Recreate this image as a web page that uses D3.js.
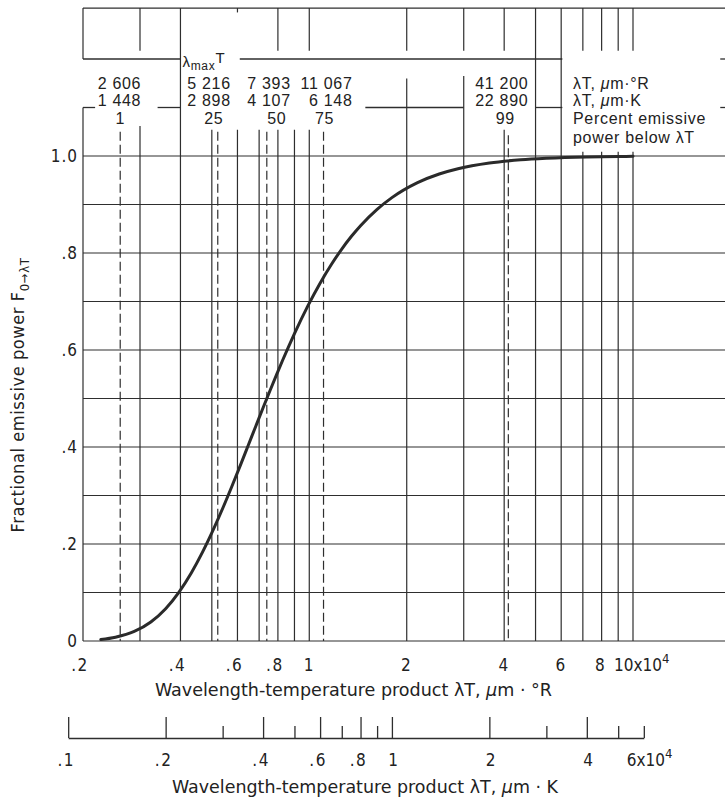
<!DOCTYPE html>
<html><head><meta charset="utf-8">
<script src="https://cdn.jsdelivr.net/npm/d3@7/dist/d3.min.js"></script>
<style>
html,body{margin:0;padding:0;background:#fff;}
svg{display:block;}
</style></head><body>
<svg id="chart" width="725" height="799"></svg>
<script>
// ---------------- data ----------------
// Wavelength-temperature product, um*degR (x 10^4) and fractional emissive power F(0->lambdaT)
const lambdaT_R = [0.227,0.252,0.288,0.324,0.36,0.396,0.432,0.468,0.504,0.54,0.576,0.612,0.648,0.684,0.72,0.756,0.792,0.828,0.864,0.90,0.99,1.08,1.17,1.26,1.35,1.44,1.62,1.80,2.16,2.52,2.88,3.60,4.50,5.40,7.20,9.00,10.0];
const fraction  = [0.003,0.0078,0.0197,0.0393,0.0667,0.1009,0.1402,0.1831,0.2279,0.2732,0.3181,0.3617,0.4036,0.4434,0.4809,0.5160,0.5488,0.5793,0.6075,0.6337,0.6909,0.7378,0.7763,0.8081,0.8344,0.8563,0.8900,0.9142,0.9451,0.9629,0.9738,0.9856,0.9922,0.9953,0.9981,0.9990,0.9993];

// marker (dashed) lines: percent of emissive power below lambdaT
const percentBelow   = [1, 25, 50, 75, 99];
const markerLambdaR  = [0.2606, 0.5216, 0.7393, 1.1067, 4.12];
const markerLabelR   = ["2 606", "5 216", "7 393", "11 067", "41 200"];
const markerLabelK   = ["1 448", "2 898", "4 107", "6 148", "22 890"];

const yGrid       = [0,0.1,0.2,0.3,0.4,0.5,0.6,0.7,0.8,0.9,1.0];
const yTicks      = [0, 0.2, 0.4, 0.6, 0.8, 1.0];
const yTickLabels = ["0", ".2", ".4", ".6", ".8", "1.0"];

const xTicksR      = [0.2, 0.4, 0.6, 0.8, 1, 2, 4, 6, 8];
const xTickLabelsR = [".2", ".4", ".6", ".8", "1", "2", "4", "6", "8"];

const kMajor       = [0.1, 0.2, 0.4, 0.6, 0.8, 1, 2, 4];
const kMajorLabels = [".1", ".2", ".4", ".6", ".8", "1", "2", "4"];
const kMinor       = [0.3, 0.5, 0.7, 0.9, 3, 5, 6];

// ---------------- layout ----------------
const svg = d3.select("#chart");
const INK = "#2e2e2e";
const x  = d3.scaleLog().domain([0.2, 10]).range([83, 633]);
const y  = d3.scaleLinear().domain([0, 1]).range([641, 156]);
// K scale: 1 um*K = 1.8 um*degR
const xK = d3.scaleLog().domain([0.1, 6]).range([x(0.18), x(10.8)]);

const narrow = "'Liberation Sans Narrow','DejaVu Sans Condensed','Arial Narrow',sans-serif";
const sans = "'Liberation Sans',Arial,Helvetica,sans-serif";

const g = svg.append("g");

// horizontal grid lines 0..1.0
g.selectAll("line.hg").data(yGrid).join("line")
  .attr("x1", x(0.2)).attr("x2", 725)
  .attr("y1", d => y(d)).attr("y2", d => y(d))
  .attr("stroke", INK).attr("stroke-width", 1.2);

// header (table) horizontal lines
const headerH = [
  {v: 1.305, segs: [[0.2, 20]]},
  {v: 1.2,   segs: [[0.2, 0.4], [0.61, 6.05], [18.6, 20]]},
  {v: 1.1,   segs: [[0.2, 0.218], [0.34, 0.4], [1.49, 3], [5, 6.05], [18.6, 20]]}
];
headerH.forEach(h => {
  g.selectAll(null).data(h.segs).join("line")
    .attr("x1", d => x(d[0])).attr("x2", d => Math.min(725, x(d[1])))
    .attr("y1", y(h.v)).attr("y2", y(h.v))
    .attr("stroke", INK).attr("stroke-width", 1.3);
});

// vertical grid lines with their vertical extents (in F units)
const TOP = 1.305, TROW = 1.217, PSTART = 1.054;
const gridV = [
  {v: 0.2, segs: [[TOP, 1.2], [1.1, 0]]},
  {v: 0.3, segs: [[TOP, TROW], [1.062, 0]]},
  {v: 0.4, segs: [[TOP, 0]]},
  {v: 0.5, segs: [[PSTART, 0]]},
  {v: 0.6, segs: [[TOP, 1.296], [PSTART, 0]]},
  {v: 0.7, segs: [[PSTART, 0]]},
  {v: 0.8, segs: [[TOP, TROW], [PSTART, 0]]},
  {v: 0.9, segs: [[PSTART, 0]]},
  {v: 1,   segs: [[TOP, TROW], [PSTART, 0]]},
  {v: 2,   segs: [[TOP, TROW], [1.16, 0]]},
  {v: 3,   segs: [[TOP, TROW], [1.165, 0]]},
  {v: 4,   segs: [[TOP, TROW], [PSTART, 0]]},
  {v: 5,   segs: [[TOP, 0]]},
  {v: 6,   segs: [[TOP, 0]]},
  {v: 7,   segs: [[TOP, TROW], [1.009, 0]]},
  {v: 8,   segs: [[TOP, TROW], [1.009, 0]]},
  {v: 9,   segs: [[TOP, TROW], [1.009, 0]]},
  {v: 10,  segs: [[TOP, TROW], [1.009, 0]]}
];
gridV.forEach(l => {
  g.selectAll(null).data(l.segs).join("line")
    .attr("x1", x(l.v)).attr("x2", x(l.v))
    .attr("y1", d => y(d[0])).attr("y2", d => y(d[1]))
    .attr("stroke", INK).attr("stroke-width", 1.2);
});

// dashed marker lines
g.selectAll("line.mk").data(markerLambdaR).join("line")
  .attr("x1", d => x(d)).attr("x2", d => x(d))
  .attr("y1", (d, i) => y(i === 4 ? 1.043 : 1.05)).attr("y2", y(0))
  .attr("stroke", INK).attr("stroke-width", 1.2)
  .attr("stroke-dasharray", "9,4");

// curve
const pts = lambdaT_R.map((v, i) => [v, fraction[i]]);
g.append("path").datum(pts)
  .attr("d", d3.line().x(d => x(d[0])).y(d => y(d[1])).curve(d3.curveMonotoneX))
  .attr("fill", "none").attr("stroke", "#2a2a2a").attr("stroke-width", 3)
  .attr("stroke-linecap", "round");

// ---------------- header texts ----------------
const hdrFont = 16, hdrLS = 0.7;
const numDx = [21, 13, 24, 29, 20];   // right edge offsets of the number columns
const pctDx = [0, -4, 10, 1, -3];
const rowY = [89, 106, 124, 143];
function hdrText(sel) {
  return sel.attr("font-family", sans).attr("font-size", hdrFont)
    .attr("letter-spacing", hdrLS).attr("fill", "#222");
}
hdrText(g.selectAll("text.r").data(markerLabelR).join("text"))
  .attr("x", (d, i) => x(markerLambdaR[i]) + numDx[i]).attr("y", rowY[0])
  .attr("text-anchor", "end").text(d => d);
hdrText(g.selectAll("text.k").data(markerLabelK).join("text"))
  .attr("x", (d, i) => x(markerLambdaR[i]) + numDx[i]).attr("y", rowY[1])
  .attr("text-anchor", "end").text(d => d);
hdrText(g.selectAll("text.p").data(percentBelow).join("text"))
  .attr("x", (d, i) => x(markerLambdaR[i]) + pctDx[i]).attr("y", rowY[2])
  .attr("text-anchor", "middle").text(d => d);

// lambda_max T
const lm = hdrText(g.append("text")).attr("x", x(0.4) + 2).attr("y", 67)
  .attr("font-size", 15);
lm.append("tspan").text("λ");
lm.append("tspan").attr("dy", 3).attr("font-size", 12).text("max");
lm.append("tspan").attr("dy", -7).text("T");

// right-side legend of header rows
const legX = 573;
const l1 = hdrText(g.append("text")).attr("x", legX).attr("y", rowY[0]);
l1.append("tspan").text("λT, ");
l1.append("tspan").attr("font-style", "italic").text("μ");
l1.append("tspan").text("m·°R");
const l2 = hdrText(g.append("text")).attr("x", legX).attr("y", rowY[1]);
l2.append("tspan").text("λT, ");
l2.append("tspan").attr("font-style", "italic").text("μ");
l2.append("tspan").text("m·K");
hdrText(g.append("text")).attr("x", legX).attr("y", rowY[2]).text("Percent emissive");
hdrText(g.append("text")).attr("x", legX).attr("y", rowY[3]).text("power below λT");

// ---------------- axes labels ----------------
// y tick labels
g.selectAll("text.yt").data(yTicks).join("text")
  .attr("x", 78).attr("y", d => y(d)).attr("dy", "0.36em")
  .attr("text-anchor", "end").attr("font-family", narrow).attr("font-size", 17)
  .attr("letter-spacing", 1).attr("fill", "#222")
  .text((d, i) => yTickLabels[i]);

// y title
const yt = g.append("text")
  .attr("transform", "translate(24,395) rotate(-90)")
  .attr("text-anchor", "middle").attr("font-family", narrow).attr("font-size", 18)
  .attr("letter-spacing", 0.6).attr("fill", "#222");
yt.append("tspan").text("Fractional emissive power F");
yt.append("tspan").attr("dy", 5).attr("font-size", 13).text("0→λT");

// x (degR) tick labels
g.selectAll("text.xt").data(xTicksR).join("text")
  .attr("x", (d, i) => x(d) + (xTickLabelsR[i].startsWith(".") ? -3 : 0) - (d === 8 ? 1 : 0))
  .attr("y", 671).attr("text-anchor", "middle")
  .attr("font-family", narrow).attr("font-size", 17).attr("letter-spacing", 1.5)
  .attr("fill", "#222").text((d, i) => xTickLabelsR[i]);
const x10 = g.append("text").attr("x", x(10) - 19).attr("y", 671)
  .attr("font-family", narrow).attr("font-size", 17).attr("fill", "#222");
x10.append("tspan").text("10x10");
x10.append("tspan").attr("dy", -8).attr("font-size", 13).text("4");

// x title (degR)
const xt = g.append("text").attr("x", 155).attr("y", 696)
  .attr("font-family", narrow).attr("font-size", 18).attr("fill", "#222")
  .attr("textLength", 397).attr("lengthAdjust", "spacingAndGlyphs");
xt.append("tspan").text("Wavelength-temperature product λT, ");
xt.append("tspan").attr("font-style", "italic").text("μ");
xt.append("tspan").text("m · °R");

// ---------------- K axis ----------------
const gK = svg.append("g").attr("transform", "translate(0,738)");
gK.call(d3.axisTop(xK).tickValues(kMajor).tickSize(21).tickSizeOuter(0).tickFormat(""));
const gK2 = svg.append("g").attr("transform", "translate(0,738)");
gK2.call(d3.axisTop(xK).tickValues(kMinor).tickSize(12).tickSizeOuter(0).tickFormat(""));
gK2.select(".domain").remove();
svg.selectAll(".tick line, .domain").attr("stroke", INK).attr("stroke-width", 1.3);

g.selectAll("text.kt").data(kMajor).join("text")
  .attr("x", (d, i) => xK(d) + (kMajorLabels[i].startsWith(".") ? -2 : 2))
  .attr("y", 766).attr("text-anchor", "middle")
  .attr("font-family", narrow).attr("font-size", 17).attr("letter-spacing", 1.5)
  .attr("fill", "#222").text((d, i) => kMajorLabels[i]);
const x6 = g.append("text").attr("x", xK(6) - 17).attr("y", 766)
  .attr("font-family", narrow).attr("font-size", 17).attr("fill", "#222");
x6.append("tspan").text("6x10");
x6.append("tspan").attr("dy", -8).attr("font-size", 13).text("4");

const kt = g.append("text").attr("x", 172).attr("y", 793)
  .attr("font-family", narrow).attr("font-size", 18).attr("fill", "#222")
  .attr("textLength", 386).attr("lengthAdjust", "spacingAndGlyphs");
kt.append("tspan").text("Wavelength-temperature product λT, ");
kt.append("tspan").attr("font-style", "italic").text("μ");
kt.append("tspan").text("m · K");
</script>
</body></html>
